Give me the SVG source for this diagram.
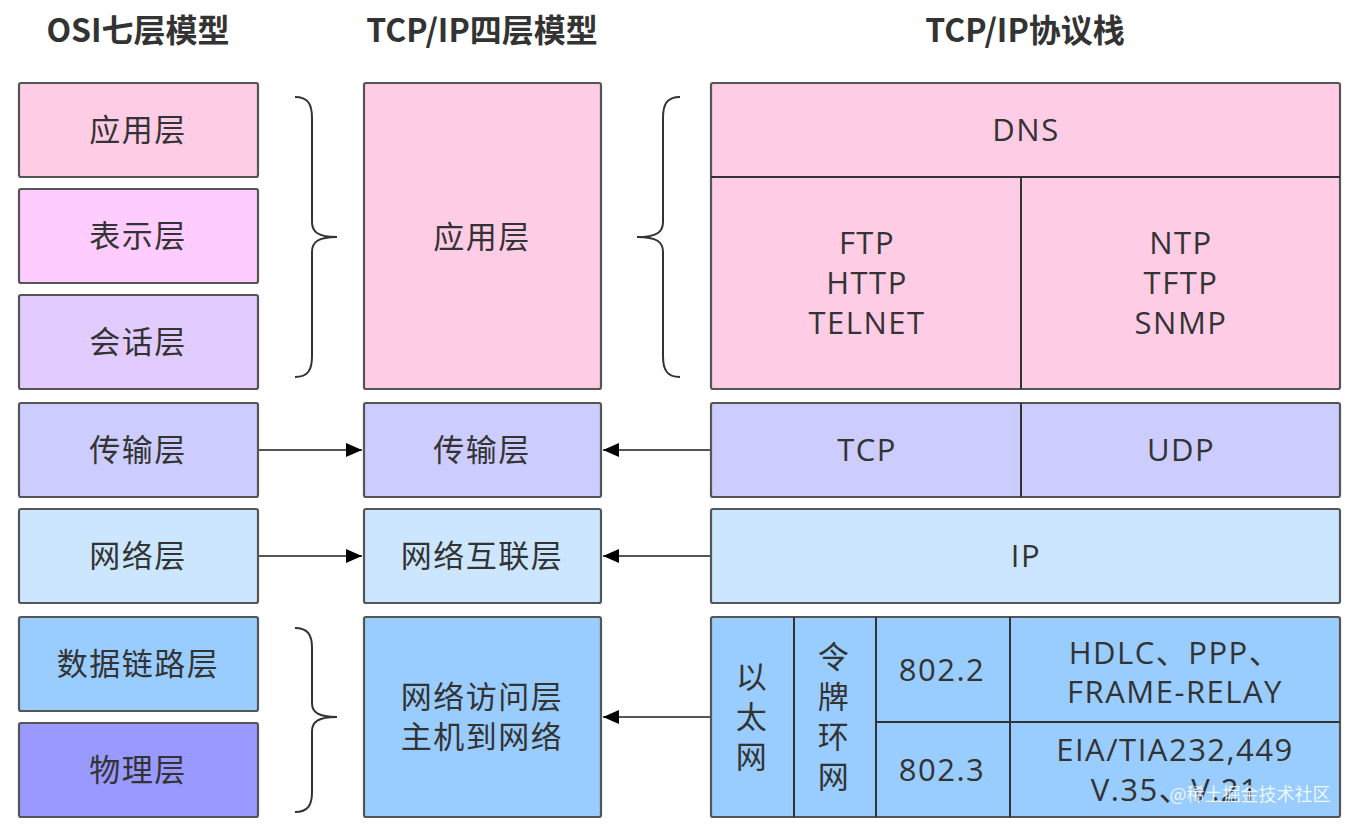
<svg xmlns="http://www.w3.org/2000/svg" width="1352" height="828" viewBox="0 0 1352 828">
<defs>
<marker id="ah" markerWidth="16" markerHeight="14" refX="16" refY="7" orient="auto" markerUnits="userSpaceOnUse">
<path d="M0,0 L16,7 L0,14 Z" fill="#000"/>
</marker>
<style>
.b{stroke:#555;stroke-width:2.2}
.d{stroke:#333;stroke-width:2;fill:none}
.t{font-family:"Open Sans","Noto Sans CJK SC",sans-serif;font-size:31px;letter-spacing:1.5px;fill:#333;text-anchor:middle;dominant-baseline:central}
.h{font-family:"Noto Sans CJK SC","Noto Sans",sans-serif;font-size:32px;font-weight:bold;fill:#333;text-anchor:middle}
.br{stroke:#333;stroke-width:2;fill:none}
.c{stroke:#555;stroke-width:2;fill:none}
.pink{fill:#FFCCE6}.mag{fill:#FFCCFF}.lav{fill:#E2CCFF}.vio{fill:#CCCCFF}.sky{fill:#CCE6FF}.blu{fill:#99CCFF}.pur{fill:#9999FF}
</style>
</defs>
<rect width="1352" height="828" fill="#fff"/>
<g id="titles">
<text class="h" x="138" y="42">OSI七层模型</text>
<text class="h" x="482" y="42">TCP/IP四层模型</text>
<text class="h" x="1025" y="42">TCP/IP协议栈</text>
</g>
<g id="osi-app"><rect class="b pink" x="19" y="83" width="239" height="94" rx="2"/><text class="t" x="138" y="129">应用层</text></g>
<g id="osi-pres"><rect class="b mag" x="19" y="189" width="239" height="94" rx="2"/><text class="t" x="138" y="235">表示层</text></g>
<g id="osi-sess"><rect class="b lav" x="19" y="295" width="239" height="94" rx="2"/><text class="t" x="138" y="341">会话层</text></g>
<g id="osi-trans"><rect class="b vio" x="19" y="403" width="239" height="94" rx="2"/><text class="t" x="138" y="449">传输层</text></g>
<g id="osi-net"><rect class="b sky" x="19" y="509" width="239" height="94" rx="2"/><text class="t" x="138" y="555">网络层</text></g>
<g id="osi-link"><rect class="b blu" x="19" y="617" width="239" height="94" rx="2"/><text class="t" x="138" y="663">数据链路层</text></g>
<g id="osi-phys"><rect class="b pur" x="19" y="723" width="239" height="94" rx="2"/><text class="t" x="138" y="769">物理层</text></g>

<g id="tcp-app"><rect class="b pink" x="364" y="83" width="237" height="306" rx="2"/><text class="t" x="482" y="236">应用层</text></g>
<g id="tcp-trans"><rect class="b vio" x="364" y="403" width="237" height="94" rx="2"/><text class="t" x="482" y="449">传输层</text></g>
<g id="tcp-net"><rect class="b sky" x="364" y="509" width="237" height="94" rx="2"/><text class="t" x="482" y="555">网络互联层</text></g>
<g id="tcp-access"><rect class="b blu" x="364" y="617" width="237" height="200" rx="2"/><text class="t" x="482" y="696">网络访问层</text><text class="t" x="482" y="736">主机到网络</text></g>

<g id="stack-app">
<rect class="b pink" x="711" y="83" width="629" height="306" rx="2"/>
<line class="d" x1="711" y1="177" x2="1340" y2="177"/>
<line class="d" x1="1021" y1="177" x2="1021" y2="389"/>
<text class="t" x="1026" y="129">DNS</text>
<text class="t" x="867" y="242">FTP</text><text class="t" x="867" y="282">HTTP</text><text class="t" x="867" y="322">TELNET</text>
<text class="t" x="1181" y="242">NTP</text><text class="t" x="1181" y="282">TFTP</text><text class="t" x="1181" y="322">SNMP</text>
</g>
<g id="stack-trans">
<rect class="b vio" x="711" y="403" width="629" height="94" rx="2"/>
<line class="d" x1="1021" y1="403" x2="1021" y2="497"/>
<text class="t" x="867" y="449">TCP</text><text class="t" x="1181" y="449">UDP</text>
</g>
<g id="stack-net"><rect class="b sky" x="711" y="509" width="629" height="94" rx="2"/><text class="t" x="1026" y="555">IP</text></g>
<g id="stack-link">
<rect class="b blu" x="711" y="617" width="629" height="200" rx="2"/>
<line class="d" x1="794" y1="617" x2="794" y2="817"/>
<line class="d" x1="876" y1="617" x2="876" y2="817"/>
<line class="d" x1="1010" y1="617" x2="1010" y2="817"/>
<line class="d" x1="876" y1="722" x2="1340" y2="722"/>
<text class="t" x="752" y="676">以</text><text class="t" x="752" y="716">太</text><text class="t" x="752" y="756">网</text>
<text class="t" x="834" y="656">令</text><text class="t" x="834" y="696">牌</text><text class="t" x="834" y="736">环</text><text class="t" x="834" y="776">网</text>
<text class="t" x="942" y="669">802.2</text><text class="t" x="942" y="769">802.3</text>
<text class="t" x="1175" y="652">HDLC、PPP、</text><text class="t" x="1175" y="691">FRAME-RELAY</text>
<text class="t" x="1175" y="749">EIA/TIA232,449</text><text class="t" x="1175" y="789">V.35、V.21</text>
</g>

<g id="braces">
<path class="br" d="M295,97 C308,97 312,104 312,118 L312,222 C312,232 318,237 337,237 C318,237 312,242 312,252 L312,356 C312,370 308,377 295,377"/>
<path class="br" d="M680,97 C667,97 663,104 663,118 L663,222 C663,232 657,237 637,237 C657,237 663,242 663,252 L663,356 C663,370 667,377 680,377"/>
<path class="br" d="M295,628 C308,628 312,635 312,648 L312,703 C312,712 318,717 337,717 C318,717 312,722 312,731 L312,792 C312,805 308,812 295,812"/>
</g>

<g id="connectors">
<line class="c" x1="258" y1="450" x2="362" y2="450" marker-end="url(#ah)"/>
<line class="c" x1="258" y1="556" x2="362" y2="556" marker-end="url(#ah)"/>
<line class="c" x1="711" y1="450" x2="603" y2="450" marker-end="url(#ah)"/>
<line class="c" x1="711" y1="556" x2="603" y2="556" marker-end="url(#ah)"/>
<line class="c" x1="711" y1="717" x2="603" y2="717" marker-end="url(#ah)"/>
</g>

<text x="1250" y="801" font-family="Noto Sans CJK SC,sans-serif" font-size="18" fill="#fff" fill-opacity="0.85" text-anchor="middle">@稀土掘金技术社区</text>
</svg>
